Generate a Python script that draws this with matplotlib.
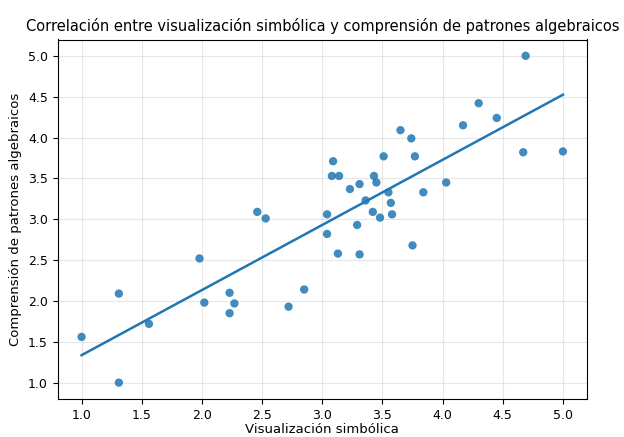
import numpy as np
import matplotlib.pyplot as plt

# Visualización simbólica (x) y comprensión de patrones algebraicos (y)
visualizacion = np.array([
    1.00, 1.31, 1.31, 1.56, 1.98, 2.02, 2.23, 2.23, 2.27, 2.46,
    2.53, 2.72, 2.85, 3.04, 3.04, 3.09, 3.08, 3.14, 3.13, 3.23,
    3.31, 3.29, 3.31, 3.36, 3.43, 3.45, 3.42, 3.48, 3.51, 3.55,
    3.57, 3.58, 3.65, 3.74, 3.77, 3.75, 3.84, 4.03, 4.17, 4.30,
    4.45, 4.69, 4.67, 5.00,
])
comprension = np.array([
    1.56, 1.00, 2.09, 1.72, 2.52, 1.98, 2.10, 1.85, 1.97, 3.09,
    3.01, 1.93, 2.14, 3.06, 2.82, 3.71, 3.53, 3.53, 2.58, 3.37,
    3.43, 2.93, 2.57, 3.23, 3.53, 3.45, 3.09, 3.02, 3.77, 3.33,
    3.20, 3.06, 4.09, 3.99, 3.77, 2.68, 3.33, 3.45, 4.15, 4.42,
    4.24, 5.00, 3.82, 3.83,
])

fig = plt.figure(figsize=(6.24, 4.37), dpi=100)
ax = fig.add_axes([57.5 / 624, 1 - 399 / 437, 529.5 / 624, 359.5 / 437])

ax.scatter(visualizacion, comprension, color="#1f77b4", alpha=0.85, s=36,
           edgecolors="none", zorder=3)

# recta de regresión
m, b = np.polyfit(visualizacion, comprension, 1)
xs = np.sort(visualizacion)
ax.plot(xs, m * xs + b, color="#1f77b4", linewidth=1.8, zorder=2)

ax.set_xticks([1.0, 1.5, 2.0, 2.5, 3.0, 3.5, 4.0, 4.5, 5.0])
ax.set_yticks([1.0, 1.5, 2.0, 2.5, 3.0, 3.5, 4.0, 4.5, 5.0])
ax.tick_params(labelsize=9)
ax.grid(True, alpha=0.3)
ax.set_xlabel("Visualización simbólica", fontsize=9.5, labelpad=1)
ax.set_ylabel("Comprensión de patrones algebraicos", fontsize=9.5)
ax.set_title("Correlación entre visualización simbólica y comprensión de patrones algebraicos",
             fontsize=10.5)

fig.savefig("out.png", dpi=100)
